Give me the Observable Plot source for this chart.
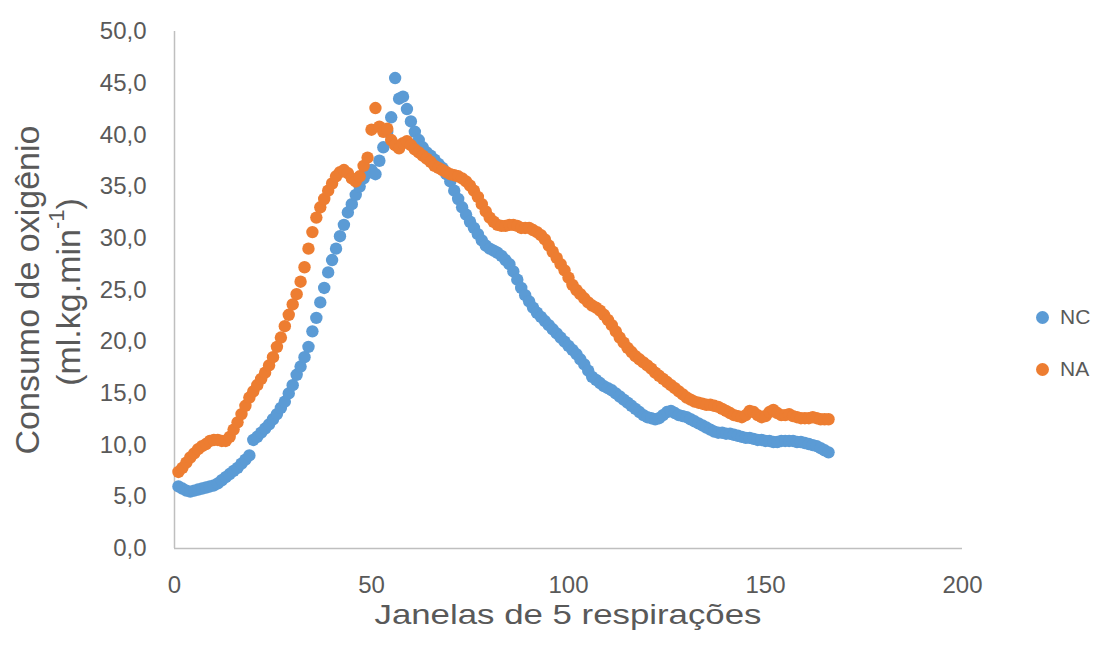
<!DOCTYPE html>
<html><head><meta charset="utf-8">
<script src="https://cdn.jsdelivr.net/npm/d3@7"></script>
<script src="https://cdn.jsdelivr.net/npm/@observablehq/plot@0.6"></script>
<style>
body{margin:0;background:#fff;font-family:"Liberation Sans",Arial,sans-serif;}
#chart{position:relative;width:1099px;height:648px;overflow:hidden;}
.leg{position:absolute;left:1036px;display:flex;align-items:center;font-size:21px;color:#595959;}
.leg span.dot{display:inline-block;width:13px;height:13px;border-radius:50%;margin-right:11px;}
</style></head>
<body><div id="chart"></div>
<script>
const seriesNames = ["NC", "NA"];
const seriesColors = ["#5B9BD5", "#ED7D31"];
const xTitle = "Janelas de 5 respirações";
const yTitle1 = "Consumo de oxigênio";
const yTitle2a = "(ml.kg.min";
const yTitle2sup = "-1";
const yTitle2b = ")";
const xTicks = [0, 50, 100, 150, 200];
const yTicks = [0, 5, 10, 15, 20, 25, 30, 35, 40, 45, 50];

// NC, windows 1..166
const ncValues = [
  6.0, 5.8, 5.6, 5.5, 5.6, 5.7, 5.8, 5.9, 6.0, 6.1,
  6.3, 6.6, 6.9, 7.2, 7.5, 7.8, 8.2, 8.6, 9.0, 10.5,
  10.8, 11.2, 11.6, 12.0, 12.5, 13.0, 13.6, 14.2, 15.0, 15.8,
  16.8, 17.6, 18.5, 19.5, 21.0, 22.3, 23.8, 25.2, 26.7, 27.9,
  29.0, 30.2, 31.3, 32.5, 33.3, 34.2, 35.0, 35.8, 36.3, 36.6,
  36.2, 37.5, 38.8, 40.3, 41.7, 45.5, 43.5, 43.7, 42.5, 41.3,
  40.3, 39.5, 38.8, 38.3, 38.0, 37.6, 37.2, 36.8, 36.2, 35.5,
  34.6, 33.8, 33.0, 32.3, 31.6, 31.0, 30.4, 29.8, 29.3, 29.0,
  28.8, 28.6, 28.3, 27.9, 27.5, 26.8, 26.0, 25.2, 24.5, 23.9,
  23.3, 22.8, 22.4, 22.0, 21.6, 21.2, 20.8, 20.4, 20.0, 19.6,
  19.2, 18.8, 18.3, 17.8, 17.2, 16.6, 16.3, 16.0, 15.7, 15.5,
  15.3, 15.0, 14.7, 14.4, 14.1, 13.8, 13.5, 13.2, 12.9, 12.7,
  12.6, 12.5, 12.6, 12.9, 13.2, 13.3, 13.1, 12.9, 12.8, 12.7,
  12.5, 12.3, 12.1, 11.9, 11.7, 11.5, 11.3, 11.2, 11.2, 11.1,
  11.1, 11.0, 10.9, 10.8, 10.7, 10.7, 10.6, 10.5, 10.5, 10.4,
  10.4, 10.3, 10.3, 10.4, 10.4, 10.4, 10.4, 10.3, 10.3, 10.2,
  10.1, 10.0, 9.9, 9.7, 9.5, 9.3
];

// NA, windows 1..166
const naValues = [
  7.4, 7.8, 8.3, 8.8, 9.2, 9.6, 9.9, 10.1, 10.4, 10.5,
  10.5, 10.4, 10.4, 10.8, 11.5, 12.2, 13.0, 13.8, 14.6, 15.2,
  15.8, 16.4, 17.0, 17.7, 18.5, 19.5, 20.4, 21.5, 22.6, 23.6,
  24.6, 25.8, 27.2, 29.0, 30.6, 32.0, 33.0, 33.8, 34.6, 35.3,
  36.0, 36.4, 36.6, 36.3, 35.8, 35.5, 36.0, 37.0, 37.8, 40.5,
  42.6, 40.8, 40.3, 40.6, 39.5, 39.0, 38.7, 39.2, 39.4, 39.0,
  38.6, 38.3, 38.0, 37.7, 37.4, 37.0, 36.8, 36.6, 36.4, 36.2,
  36.1, 36.0, 35.8, 35.5, 35.1, 34.6, 34.0, 33.3, 32.6, 32.0,
  31.6, 31.3, 31.2, 31.2, 31.3, 31.3, 31.2, 31.0, 31.0, 31.0,
  30.8, 30.6, 30.3, 29.9, 29.3, 28.7, 28.1, 27.5, 26.9, 26.2,
  25.5, 25.0, 24.6, 24.2, 23.8, 23.5, 23.3, 23.0, 22.6, 22.1,
  21.6, 21.0, 20.4, 19.9, 19.4, 19.0, 18.6, 18.3, 18.0, 17.7,
  17.4, 17.0, 16.7, 16.4, 16.1, 15.8, 15.5, 15.2, 14.9, 14.6,
  14.4, 14.2, 14.1, 14.0, 13.9, 13.9, 13.8, 13.7, 13.5, 13.3,
  13.1, 12.9, 12.8, 12.7, 12.9, 13.3, 13.2, 12.9, 12.7, 12.8,
  13.2, 13.4, 13.1, 12.9, 12.9, 13.0, 12.8, 12.7, 12.6, 12.6,
  12.6, 12.7, 12.6, 12.5, 12.5, 12.5
];

const data = [];
ncValues.forEach((v, i) => data.push({x: i + 1, y: v, s: seriesNames[0]}));
naValues.forEach((v, i) => data.push({x: i + 1, y: v, s: seriesNames[1]}));

const fmt = d => d.toFixed(1).replace(".", ",");
const font = '"Liberation Sans", Arial, sans-serif';

const plot = Plot.plot({
  width: 1099,
  height: 648,
  marginLeft: 174,
  marginRight: 137,
  marginTop: 31,
  marginBottom: 100,
  style: {fontFamily: font, background: "white", color: "#595959"},
  x: {domain: [0, 200]},
  y: {domain: [0, 50]},
  color: {domain: seriesNames, range: seriesColors},
  marks: [
    Plot.axisX({ticks: xTicks, tickSize: 0, tickPadding: 27, fontSize: 24, fill: "#595959", label: null}),
    Plot.axisY({ticks: yTicks, tickSize: 0, tickPadding: 28, fontSize: 24, fill: "#595959", label: null, tickFormat: fmt}),
    Plot.ruleY([0], {stroke: "#bfbfbf", strokeWidth: 1.5}),
    Plot.ruleX([0], {stroke: "#bfbfbf", strokeWidth: 1.5}),
    Plot.dot(data, {x: "x", y: "y", fill: "s", r: 6.2, stroke: "none"})
  ]
});

const svg = d3.select(plot);
svg.append("text")
  .attr("x", 568).attr("y", 624)
  .attr("text-anchor", "middle")
  .attr("font-size", 28).attr("font-family", font).attr("fill", "#595959")
  .attr("textLength", 387).attr("lengthAdjust", "spacingAndGlyphs")
  .text(xTitle);
svg.append("text")
  .attr("transform", "translate(27,290) rotate(-90)")
  .attr("text-anchor", "middle").attr("dominant-baseline", "central")
  .attr("font-size", 34).attr("font-family", font).attr("fill", "#595959")
  .text(yTitle1);
const t2 = svg.append("text")
  .attr("transform", "translate(68,292) rotate(-90)")
  .attr("text-anchor", "middle").attr("dominant-baseline", "central")
  .attr("font-size", 34).attr("font-family", font).attr("fill", "#595959");
t2.append("tspan").text(yTitle2a);
t2.append("tspan").attr("font-size", 22).attr("dy", -12).text(yTitle2sup);
t2.append("tspan").attr("dy", 12).text(yTitle2b);

const chart = document.getElementById("chart");
chart.appendChild(plot);

const legTops = [317, 369];
seriesNames.forEach((name, i) => {
  const d = document.createElement("div");
  d.className = "leg";
  d.style.top = (legTops[i] - 13) + "px";
  d.style.height = "26px";
  const dot = document.createElement("span");
  dot.className = "dot";
  dot.style.background = seriesColors[i];
  d.appendChild(dot);
  d.appendChild(document.createTextNode(name));
  chart.appendChild(d);
});
</script>
</body></html>
